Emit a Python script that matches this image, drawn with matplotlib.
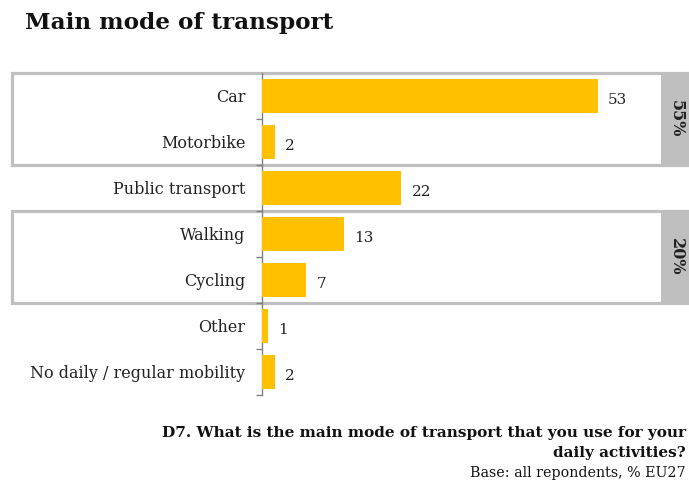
import numpy as np
import matplotlib.pyplot as plt
from matplotlib.patches import Rectangle
from matplotlib.transforms import blended_transform_factory

# === Dane ===
categories = ["Car", "Motorbike", "Public transport", "Walking", "Cycling",
              "Other", "No daily / regular mobility"]
values = [53, 2, 22, 13, 7, 1, 2]
group_rows = [(0, 1), (3, 4)]
group_labels = ["55%", "20%"]

TITLE = "Main mode of transport"
NOTE_1 = "D7. What is the main mode of transport that you use for your"
NOTE_2 = "daily activities?"
BASE = "Base: all repondents, % EU27"

BAR_COLOR = "#FFC000"
BOX_GRAY = "#BFBFBF"

plt.rcParams['font.family'] = ['DejaVu Serif']

W, H = 689, 482
fig = plt.figure(figsize=(W / 100, H / 100), dpi=100)

# axes: x 262..661 px, y 73..395 px
ax = fig.add_axes([262 / W, 1 - 395 / H, (661 - 262) / W, (395 - 73) / H])
ax.set_xlim(0, (661 - 262) / 6.34)
ax.set_ylim(len(categories) - 0.5, -0.5)

y = np.arange(len(categories))
ax.barh(y, values, height=0.74, color=BAR_COLOR, zorder=3)

for yi, v in zip(y, values):
    ax.text(v + 1.6, yi + 0.08, str(v), va="center", ha="left",
            fontsize=11, color="#222222", zorder=4)

ax.set_yticks(y)
ax.set_yticklabels(categories, fontsize=11.5, color="#222222")
ax.tick_params(axis="y", which="major", length=0, pad=12)
ax.set_yticks(np.arange(len(categories)) + 0.5, minor=True)
ax.tick_params(axis="y", which="minor", length=4, color="#808080", width=1)
ax.set_xticks([])
for s in ["top", "right", "bottom"]:
    ax.spines[s].set_visible(False)
ax.spines["left"].set_color("#808080")
ax.spines["left"].set_linewidth(1)
ax.set_facecolor("none")

# === Ramki grup ===
tr = blended_transform_factory(fig.transFigure, ax.transData)
for (r0, r1), lab in zip(group_rows, group_labels):
    y0 = r0 - 0.5
    hgt = r1 - r0 + 1
    ax.add_patch(Rectangle((12 / W, y0), (700 - 12) / W, hgt, transform=tr,
                           facecolor="white", edgecolor=BOX_GRAY, lw=2.3,
                           clip_on=False, zorder=0))
    ax.add_patch(Rectangle((661 / W, y0), 40 / W, hgt, transform=tr,
                           facecolor=BOX_GRAY, edgecolor="none",
                           clip_on=False, zorder=1))
    ax.text(676 / W, (r0 + r1) / 2, lab, transform=tr, rotation=270,
            ha="center", va="center", fontsize=11.5, fontweight="bold",
            color="#222222", zorder=2)

# === Teksty ===
fig.text(25 / W, 1 - 23 / H, TITLE, fontsize=16.7, fontweight="bold",
         ha="left", va="center", color="#111111")
fig.text(686 / W, 1 - 433 / H, NOTE_1, fontsize=11, fontweight="bold",
         ha="right", va="center", color="#111111")
fig.text(686 / W, 1 - 453 / H, NOTE_2, fontsize=11, fontweight="bold",
         ha="right", va="center", color="#111111")
fig.text(686 / W, 1 - 473 / H, BASE, fontsize=10.3,
         ha="right", va="center", color="#111111")

plt.savefig("out.png", dpi=100)
